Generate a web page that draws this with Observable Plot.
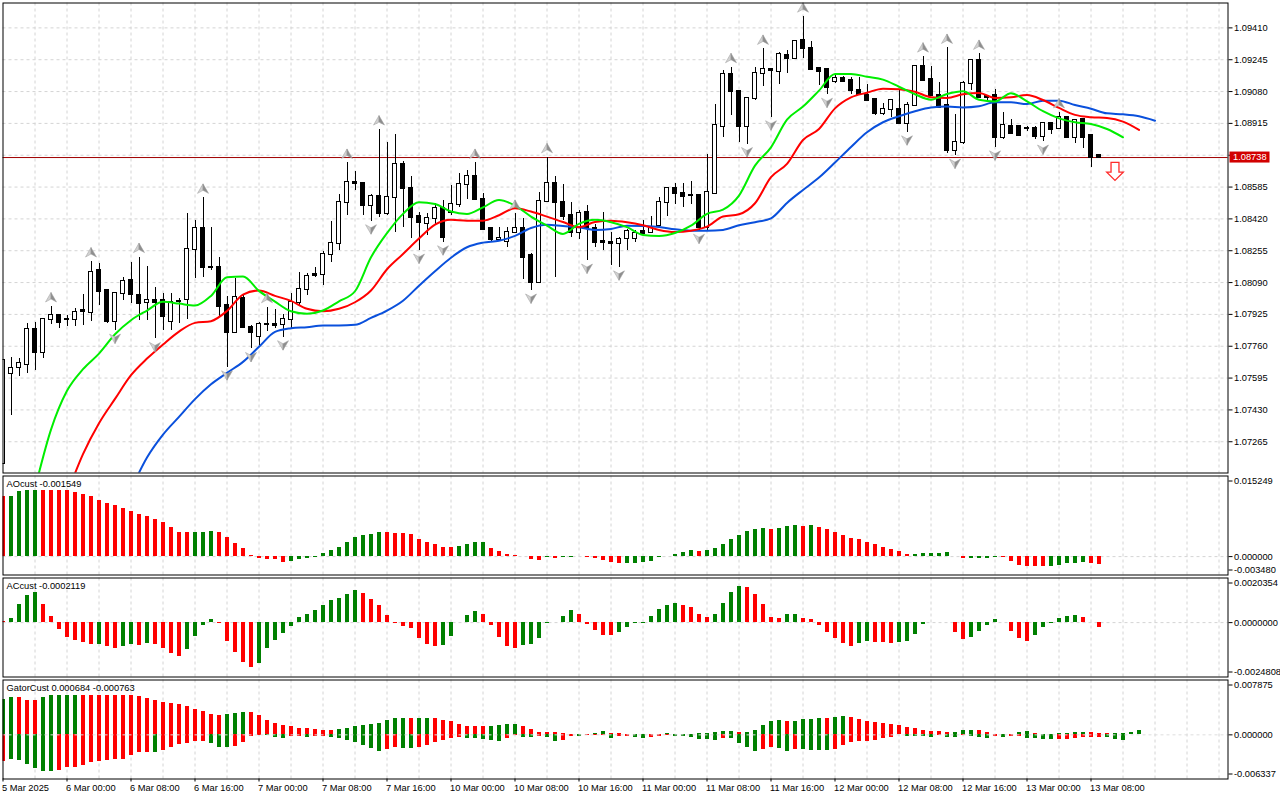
<!DOCTYPE html>
<html><head><meta charset="utf-8">
<script src="https://cdn.jsdelivr.net/npm/d3@7"></script>
<script src="https://cdn.jsdelivr.net/npm/@observablehq/plot@0.6"></script>
<style>
html,body{margin:0;padding:0;background:#fff;}
#wrap{position:relative;width:1280px;height:800px;overflow:hidden;background:#fff;}
#wrap > .pane{position:absolute;left:0;}
svg{display:block;}
</style></head><body><div id="wrap"></div>
<script>
// ---------------- DATA ----------------
const timeTickIdx = [0,8,16,24,32,40,48,56,64,72,80,88,96,104,112,120,128,136];
const timeLabels = ["5 Mar 2025","6 Mar 00:00","6 Mar 08:00","6 Mar 16:00","7 Mar 00:00","7 Mar 08:00","7 Mar 16:00","10 Mar 00:00","10 Mar 08:00","10 Mar 16:00","11 Mar 00:00","11 Mar 08:00","11 Mar 16:00","12 Mar 00:00","12 Mar 08:00","12 Mar 16:00","13 Mar 00:00","13 Mar 08:00"];
const priceTicks = [1.09410,1.09245,1.09080,1.08915,1.08750,1.08585,1.08420,1.08255,1.08090,1.07925,1.07760,1.07595,1.07430,1.07265];
const priceRange = [1.07103, 1.09539];
const visibleBars = 153.125;

const opens = [1.07154,1.07617,1.07648,1.07663,1.07845,1.07729,1.07897,1.07917,1.07897,1.07897,
1.07943,1.07936,1.08152,1.08049,1.07890,1.08031,1.08100,1.08023,1.07988,1.07999,
1.07997,1.07890,1.07992,1.08000,1.08259,1.08368,1.08170,1.08169,1.07971,1.07833,
1.08009,1.07859,1.07810,1.07871,1.07873,1.07871,1.07897,1.07988,1.08052,1.08130,
1.08130,1.08233,1.08295,1.08503,1.08610,1.08601,1.08489,1.08537,1.08446,1.08532,
1.08700,1.08580,1.08432,1.08395,1.08421,1.08472,1.08455,1.08494,1.08598,1.08639,
1.08523,1.08368,1.08311,1.08304,1.08351,1.08368,1.08230,1.08092,1.08510,1.08606,
1.08503,1.08440,1.08347,1.08451,1.08368,1.08302,1.08297,1.08290,1.08316,1.08321,
1.08354,1.08347,1.08385,1.08506,1.08575,1.08554,1.08542,1.08541,1.08377,1.08554,
1.08900,1.09168,1.09081,1.08900,1.09042,1.09176,1.09192,1.09185,1.09266,1.09249,
1.09344,1.09304,1.09197,1.09192,1.09130,1.09149,1.09137,1.09085,1.09059,1.09038,
1.08967,1.08985,1.08985,1.08917,1.09010,1.09209,1.09140,1.09062,1.09007,1.08774,
1.08817,1.09124,1.09240,1.09054,1.09059,1.08840,1.08898,1.08898,1.08886,1.08886,
1.08848,1.08912,1.08886,1.08947,1.08843,1.08934,1.08852,1.08748];
const highs = [1.07690,1.07703,1.07699,1.07879,1.07881,1.07902,1.07966,1.07924,1.07919,1.07954,
1.08026,1.08199,1.08187,1.08049,1.08038,1.08118,1.08196,1.08222,1.08173,1.08066,
1.08032,1.08032,1.08005,1.08446,1.08411,1.08529,1.08377,1.08218,1.08017,1.08109,
1.08023,1.07867,1.07884,1.07962,1.07948,1.07924,1.08031,1.08144,1.08135,1.08169,
1.08252,1.08408,1.08546,1.08710,1.08667,1.08601,1.08549,1.08883,1.08814,1.08860,
1.08719,1.08639,1.08455,1.08446,1.08498,1.08515,1.08593,1.08653,1.08670,1.08710,
1.08554,1.08377,1.08373,1.08377,1.08446,1.08420,1.08239,1.08558,1.08739,1.08639,
1.08598,1.08506,1.08466,1.08489,1.08390,1.08454,1.08347,1.08325,1.08363,1.08359,
1.08411,1.08432,1.08532,1.08584,1.08605,1.08605,1.08613,1.08549,1.08753,1.09012,
1.09188,1.09206,1.09085,1.09045,1.09206,1.09301,1.09200,1.09283,1.09292,1.09344,
1.09468,1.09339,1.09206,1.09197,1.09168,1.09157,1.09154,1.09154,1.09114,1.09045,
1.09019,1.09038,1.09085,1.09024,1.09214,1.09261,1.09209,1.09128,1.09306,1.08960,
1.09131,1.09244,1.09275,1.09062,1.09093,1.08969,1.08934,1.08898,1.08898,1.08898,
1.08915,1.08921,1.08972,1.08950,1.08933,1.08938,1.08852,1.08748];
const lows = [1.07150,1.07401,1.07603,1.07620,1.07634,1.07695,1.07872,1.07850,1.07862,1.07864,
1.07867,1.07890,1.07971,1.07876,1.07841,1.07997,1.07980,1.07894,1.07895,1.07798,
1.07840,1.07842,1.07876,1.07897,1.08109,1.08114,1.08152,1.07914,1.07651,1.07824,
1.07850,1.07746,1.07764,1.07838,1.07850,1.07807,1.07850,1.07971,1.08023,1.08114,
1.08074,1.08195,1.08256,1.08437,1.08567,1.08437,1.08408,1.08428,1.08437,1.08351,
1.08373,1.08316,1.08256,1.08334,1.08386,1.08299,1.08438,1.08480,1.08523,1.08518,
1.08359,1.08304,1.08307,1.08273,1.08342,1.08104,1.08049,1.08083,1.08506,1.08118,
1.08411,1.08325,1.08311,1.08204,1.08273,1.08256,1.08178,1.08169,1.08256,1.08299,
1.08340,1.08342,1.08377,1.08432,1.08497,1.08480,1.08497,1.08359,1.08362,1.08549,
1.08843,1.08955,1.08817,1.08808,1.09033,1.09105,1.08947,1.09119,1.09176,1.09244,
1.09249,1.09188,1.09111,1.09064,1.09123,1.09128,1.09064,1.09059,1.09030,1.08955,
1.08955,1.08947,1.08912,1.08869,1.09002,1.09131,1.09059,1.08995,1.08757,1.08748,
1.08808,1.09088,1.09047,1.09024,1.08791,1.08829,1.08857,1.08850,1.08872,1.08829,
1.08821,1.08860,1.08883,1.08843,1.08812,1.08786,1.08688,1.08738];
const closes = [1.07686,1.07646,1.07669,1.07845,1.07729,1.07897,1.07917,1.07884,1.07897,1.07936,
1.07939,1.08144,1.08045,1.07890,1.08031,1.08097,1.08027,1.07983,1.07996,1.07988,
1.07914,1.07988,1.07990,1.08259,1.08368,1.08166,1.08168,1.07967,1.07833,1.08011,
1.07859,1.07833,1.07871,1.07873,1.07870,1.07897,1.07988,1.08052,1.08124,1.08128,
1.08233,1.08295,1.08503,1.08610,1.08601,1.08492,1.08537,1.08446,1.08532,1.08700,
1.08580,1.08428,1.08400,1.08421,1.08472,1.08325,1.08493,1.08598,1.08639,1.08523,
1.08366,1.08311,1.08316,1.08347,1.08368,1.08218,1.08092,1.08510,1.08606,1.08503,
1.08435,1.08347,1.08446,1.08377,1.08299,1.08300,1.08294,1.08311,1.08354,1.08342,
1.08342,1.08368,1.08506,1.08575,1.08553,1.08537,1.08540,1.08377,1.08558,1.08903,
1.09168,1.09081,1.08900,1.09042,1.09176,1.09192,1.09190,1.09271,1.09249,1.09337,
1.09304,1.09192,1.09185,1.09099,1.09150,1.09133,1.09085,1.09067,1.09033,1.08964,
1.08985,1.09033,1.08915,1.09010,1.09209,1.09137,1.09062,1.08998,1.08774,1.08817,
1.09124,1.09240,1.09050,1.09050,1.08840,1.08902,1.08864,1.08850,1.08886,1.08848,
1.08912,1.08883,1.08947,1.08843,1.08929,1.08843,1.08739,1.08738];

const upFractalIdx = [6,11,17,25,33,43,47,59,64,68,91,95,100,115,118,122,132];
const downFractalIdx = [14,19,28,31,35,46,52,55,66,73,77,87,93,96,103,113,119,124,130];
const signalIdx = [139];
const signalPrice = [1.08666];

// Alligator lines, one value every lineStep bars from their start bar
const lineStep = 2;
const lipsStart = 4;
const lips = [1.07023,1.07328,1.07529,1.07641,1.07722,1.07822,1.07895,1.07945,1.07990,1.07981,
1.07971,1.08021,1.08117,1.08121,1.08047,1.07991,1.07941,1.07928,1.07945,1.07993,
1.08045,1.08221,1.08346,1.08446,1.08506,1.08497,1.08458,1.08446,1.08480,1.08518,
1.08489,1.08432,1.08385,1.08342,1.08394,1.08415,1.08403,1.08377,1.08337,1.08332,
1.08347,1.08385,1.08446,1.08468,1.08541,1.08696,1.08791,1.08934,1.09002,1.09085,
1.09171,1.09171,1.09157,1.09142,1.09105,1.09066,1.09038,1.09067,1.09081,1.09038,
1.09029,1.09071,1.09029,1.08978,1.08941,1.08921,1.08912,1.08886,1.08843];
const teethStart = 8;
const teeth = [1.06994,1.07201,1.07361,1.07487,1.07610,1.07696,1.07769,1.07836,1.07881,1.07890,
1.07943,1.08028,1.08049,1.08021,1.07995,1.07954,1.07941,1.07954,1.07988,1.08049,
1.08159,1.08238,1.08318,1.08390,1.08415,1.08411,1.08411,1.08439,1.08475,1.08458,
1.08432,1.08404,1.08377,1.08404,1.08411,1.08403,1.08387,1.08363,1.08352,1.08359,
1.08380,1.08432,1.08444,1.08501,1.08636,1.08705,1.08829,1.08886,1.08993,1.09050,
1.09074,1.09095,1.09092,1.09079,1.09051,1.09047,1.09066,1.09073,1.09047,1.09051,
1.09062,1.09036,1.08995,1.08959,1.08947,1.08943,1.08924,1.08881];
const jawStart = 16;
const jaw = [1.07018,1.07183,1.07302,1.07394,1.07486,1.07563,1.07622,1.07679,1.07757,1.07834,
1.07853,1.07859,1.07867,1.07867,1.07871,1.07907,1.07945,1.07996,1.08074,1.08149,
1.08219,1.08273,1.08297,1.08307,1.08332,1.08373,1.08390,1.08383,1.08377,1.08363,
1.08368,1.08385,1.08383,1.08378,1.08366,1.08359,1.08359,1.08363,1.08387,1.08403,
1.08423,1.08503,1.08570,1.08634,1.08712,1.08793,1.08869,1.08921,1.08952,1.08978,
1.08997,1.09002,1.08998,1.09004,1.09024,1.09024,1.09015,1.09033,1.09033,1.09010,
1.08991,1.08967,1.08962,1.08952,1.08929];

// Awesome oscillator (u = rising bar, d = falling bar)
const aoTitle = "AOcust -0.001549";
const aoRange = [-0.003480, 0.015249];
const aoValues = [0.01131,0.01144,0.01239,0.01258,0.01260,0.01256,0.01254,0.01252,0.01250,0.01220,
0.01182,0.01131,0.01068,0.01005,0.00960,0.00916,0.00859,0.00802,0.00764,0.00707,
0.00637,0.00548,0.00460,0.00447,0.00453,0.00460,0.00466,0.00447,0.00352,0.00257,
0.00155,0.00022,-0.00035,-0.00054,-0.00060,-0.00105,-0.00086,-0.00048,-0.00035,-0.00016,
0.00054,0.00117,0.00181,0.00276,0.00352,0.00402,0.00421,0.00460,0.00447,0.00434,
0.00430,0.00421,0.00326,0.00276,0.00231,0.00181,0.00174,0.00193,0.00231,0.00269,
0.00276,0.00162,0.00105,0.00041,0.00016,-0.00003,-0.00060,-0.00067,-0.00022,-0.00041,
-0.00022,-0.00010,0.00010,-0.00022,-0.00041,-0.00073,-0.00105,-0.00125,-0.00123,-0.00121,
-0.00119,-0.00086,-0.00022,0.00002,0.00041,0.00079,0.00117,0.00105,0.00117,0.00149,
0.00231,0.00320,0.00402,0.00479,0.00517,0.00523,0.00517,0.00536,0.00574,0.00580,
0.00574,0.00593,0.00555,0.00510,0.00460,0.00402,0.00339,0.00320,0.00276,0.00231,
0.00168,0.00136,0.00098,0.00035,0.00041,0.00054,0.00066,0.00068,0.00072,0.00010,
-0.00041,-0.00038,-0.00035,-0.00030,-0.00022,-0.00025,-0.00086,-0.00168,-0.00181,-0.00184,
-0.00187,-0.00178,-0.00168,-0.00136,-0.00124,-0.00120,-0.00124,-0.001549];
const aoDirs = "duuuuddddd"+"dddddddddd"+"dddduuuddd"+"dddddduuuu"+"uuuuuuuudd"+"ddddddduuu"+"udddddddud"+"uuuddddduu"+"uuuuuuuduu"+"uuuuuuduuu"+"dudddddddd"+"dddduuuuud"+"duuuuddddd"+"duuuuudd";

// Accelerator oscillator
const acTitle = "ACcust -0.0002119";
const acRange = [-0.0024808, 0.0020354];
const acValues = [0.00003,0.00020,0.00082,0.00123,0.00136,0.00082,0.00029,-0.00030,-0.00067,-0.00082,
-0.00092,-0.00101,-0.00100,-0.00109,-0.00117,-0.00107,-0.00100,-0.00104,-0.00097,-0.00098,
-0.00117,-0.00142,-0.00153,-0.00123,-0.00062,-0.00014,0.00012,-0.00002,-0.00085,-0.00135,
-0.00180,-0.00207,-0.00185,-0.00120,-0.00082,-0.00051,-0.00017,0.00023,0.00039,0.00057,
0.00077,0.00100,0.00110,0.00130,0.00145,0.00135,0.00104,0.00077,0.00032,-0.00002,
-0.00018,-0.00029,-0.00071,-0.00100,-0.00107,-0.00104,-0.00062,0.00002,0.00032,0.00050,
0.00036,-0.00012,-0.00067,-0.00107,-0.00117,-0.00104,-0.00100,-0.00074,-0.00002,0.00002,
0.00029,0.00054,0.00036,-0.00009,-0.00036,-0.00059,-0.00060,-0.00044,-0.00024,-0.00006,
-0.00003,0.00030,0.00059,0.00077,0.00085,0.00077,0.00070,0.00036,0.00023,0.00036,
0.00086,0.00138,0.00163,0.00159,0.00130,0.00082,0.00023,0.00020,0.00035,0.00037,
0.00017,0.00012,-0.00011,-0.00044,-0.00074,-0.00097,-0.00107,-0.00094,-0.00085,-0.00089,
-0.00092,-0.00094,-0.00089,-0.00085,-0.00054,-0.00009,0.00002,0.00001,0.00002,-0.00044,
-0.00079,-0.00067,-0.00039,-0.00014,0.00012,0.00002,-0.00039,-0.00074,-0.00085,-0.00059,
-0.00024,-0.00002,0.00017,0.00029,0.00032,0.00024,0.00002,-0.0002119];
const acDirs = "duuuuddddd"+"ddudduudud"+"ddduuuuddd"+"dduuuuuuuu"+"uuuuuddddd"+"ddddduuuuu"+"ddddduuuuu"+"uuddddduuu"+"uuuuuddddu"+"uuuddddduu"+"ddddddduud"+"dduuuuudud"+"duuuuddddu"+"uuuuuddd";

// Gator oscillator
const gatorTitle = "GatorCust 0.000684 -0.000763";
const gatorRange = [-0.006337, 0.007875];
const gatorUpper = [0.00507,0.00541,0.00531,0.00498,0.00497,0.00541,0.00560,0.00563,0.00565,0.00566,
0.00565,0.00564,0.00563,0.00562,0.00561,0.00560,0.00559,0.00550,0.00522,0.00498,
0.00469,0.00450,0.00435,0.00407,0.00364,0.00340,0.00292,0.00282,0.00292,0.00311,
0.00325,0.00323,0.00282,0.00211,0.00163,0.00139,0.00124,0.00091,0.00086,0.00077,
0.00067,0.00062,0.00072,0.00096,0.00115,0.00134,0.00144,0.00167,0.00211,0.00239,
0.00241,0.00230,0.00232,0.00239,0.00237,0.00201,0.00191,0.00153,0.00124,0.00115,
0.00113,0.00116,0.00129,0.00144,0.00145,0.00115,0.00077,0.00038,0.00029,0.00028,
0.00014,0.00003,0.00005,0.00010,0.00024,0.00053,0.00024,0.00022,0.00010,0.00003,
0.00004,0.00002,0.00005,0.00024,0.00010,0.00003,0.00004,0.00014,0.00024,0.00038,
0.00053,0.00054,0.00038,0.00040,0.00067,0.00139,0.00196,0.00211,0.00196,0.00198,
0.00225,0.00227,0.00239,0.00237,0.00254,0.00268,0.00254,0.00225,0.00196,0.00182,
0.00167,0.00153,0.00139,0.00110,0.00096,0.00067,0.00053,0.00051,0.00038,0.00040,
0.00067,0.00068,0.00066,0.00038,0.00010,0.00002,0.00010,0.00038,0.00053,0.00024,
0.00003,0.00010,0.00024,0.00025,0.00038,0.00039,0.00038,0.00024,0.00023,0.00025,
0.00026,0.00038,0.000684];
const gatorUpperDirs = "uuddduuuuu"+"dddddddddd"+"dddddddduu"+"uddddddddd"+"dduuuuuuuu"+"uduudddddd"+"duuuuddddd"+"dduuuudddd"+"uduudduuuu"+"uuduuuuudu"+"uuuduudddd"+"dddddddddu"+"uudddduuud"+"duuuuudddu"+"uuu";
const gatorLower = [-0.00388,-0.00349,-0.00364,-0.00426,-0.00488,-0.00522,-0.00525,-0.00512,-0.00474,-0.00472,
-0.00445,-0.00402,-0.00378,-0.00364,-0.00349,-0.00347,-0.00301,-0.00249,-0.00247,-0.00250,
-0.00220,-0.00177,-0.00139,-0.00120,-0.00091,-0.00090,-0.00129,-0.00177,-0.00187,-0.00163,
-0.00115,-0.00029,-0.00010,-0.00011,-0.00043,-0.00057,-0.00029,-0.00028,-0.00043,-0.00029,
-0.00024,-0.00043,-0.00057,-0.00077,-0.00115,-0.00148,-0.00201,-0.00234,-0.00215,-0.00187,
-0.00201,-0.00203,-0.00187,-0.00148,-0.00115,-0.00077,-0.00057,-0.00043,-0.00053,-0.00057,
-0.00067,-0.00077,-0.00091,-0.00053,-0.00010,-0.00033,-0.00043,-0.00019,-0.00043,-0.00091,
-0.00077,-0.00024,-0.00029,-0.00014,-0.00013,-0.00005,-0.00057,-0.00029,-0.00024,-0.00038,
-0.00057,-0.00043,-0.00029,-0.00014,-0.00019,-0.00029,-0.00043,-0.00072,-0.00073,-0.00074,
-0.00057,-0.00058,-0.00120,-0.00187,-0.00244,-0.00215,-0.00187,-0.00201,-0.00244,-0.00215,
-0.00216,-0.00225,-0.00230,-0.00231,-0.00215,-0.00158,-0.00115,-0.00100,-0.00091,-0.00077,
-0.00057,-0.00043,-0.00002,-0.00024,-0.00029,-0.00030,-0.00043,-0.00010,-0.00043,-0.00044,
-0.00014,-0.00024,-0.00043,-0.00057,-0.00019,-0.00043,-0.00029,-0.00028,-0.00057,-0.00058,
-0.00072,-0.00073,-0.00072,-0.00071,-0.00057,-0.00043,-0.00043,-0.00041,-0.00043,-0.00067,
-0.000763];
const gatorLowerDirs = "duuuuuuddd"+"dddddddddu"+"dddddduuud"+"ddduuuddud"+"duuuuuuudd"+"uudddddduu"+"uuudduuduu"+"dduddduddu"+"uddduuuuuu"+"duuuudduud"+"uuuudddddd"+"ddduuuuduu"+"duuududduu"+"uudddddduu"+"u";

// ---------------- RENDER ----------------
const FONT = '"Liberation Sans", Arial, sans-serif';
const FS = "9.3px";
const GRID = "#d4d4d4";
const UP = "#008000", DOWN = "#ff0000";
const gridIdx = d3.range(4, visibleBars, 4);
const lastClose = closes[closes.length - 1];

const barsData = opens.map((o, i) => ({i, open: o, high: highs[i], low: lows[i], close: closes[i]}));
const lineData = (vals, start) => vals.map((v, k) => ({i: start + lineStep * k, v}));
const histData = (vals, dirs) => vals.map((v, i) => ({i, v, dir: dirs[i]}));
const upFr = upFractalIdx.map(i => ({i, y: highs[i]}));
const dnFr = downFractalIdx.map(i => ({i, y: lows[i]}));
const signals = signalIdx.map((i, k) => ({i, y: signalPrice[k]}));

const makeSym = pts => ({draw(ctx, size) {
  const k = Math.sqrt(size / Math.PI) / 5;
  ctx.moveTo(pts[0][0] * k, pts[0][1] * k);
  for (const [a, b] of pts.slice(1)) ctx.lineTo(a * k, b * k);
  ctx.closePath();
}});
const fracUpL = makeSym([[0,-5],[-5.5,4.5],[0,1.5]]);
const fracUpR = makeSym([[0,-5],[5.5,4.5],[0,1.5]]);
const fracDnL = makeSym([[0,5],[-5.5,-4.5],[0,-1.5]]);
const fracDnR = makeSym([[0,5],[5.5,-4.5],[0,-1.5]]);
const sigDown = makeSym([[-2.2,-5],[2.2,-5],[2.2,0.4],[4.6,0.4],[0,5],[-4.6,0.4],[-2.2,0.4]]);

function opts(height, mt, mb, yDomain) {
  return {
    width: 1280, height, marginLeft: 2.5, marginRight: 52.5, marginTop: mt, marginBottom: mb,
    x: {domain: [0, visibleBars], axis: null, label: null},
    y: {domain: yDomain, axis: null, label: null},
    color: {type: "identity"},
    style: {fontFamily: FONT, fontSize: FS, color: "#000", background: "transparent", overflow: "visible"}
  };
}
const gridV = () => Plot.gridX(gridIdx, {stroke: GRID, strokeOpacity: 1, strokeDasharray: "3,3"});
const histMark = data => Plot.rect(data, {
  x1: d => d.i - 0.25, x2: d => d.i + 0.25, y1: 0, y2: "v",
  fill: d => d.dir === "u" ? UP : DOWN, clip: "frame", shapeRendering: "crispEdges"
});
const sideLabels = (range, digits) => [
  Plot.axisY([range[1]], {anchor: "right", label: null, tickSize: 4, tickPadding: 2, dy: 5, tickFormat: d => d.toFixed(digits)}),
  Plot.axisY([0], {anchor: "right", label: null, tickSize: 4, tickPadding: 2, tickFormat: d => d.toFixed(digits)}),
  Plot.axisY([range[0]], {anchor: "right", label: null, tickSize: 4, tickPadding: 2, dy: -5, tickFormat: d => d.toFixed(digits)})
];
const titleMark = t => Plot.text([t], {frameAnchor: "top-left", dx: 3.5, dy: 8.5, lineAnchor: "middle", textAnchor: "start", text: d => d, fill: "#000"});

const wrap = document.getElementById("wrap");
function place(svg, top) {
  const d = document.createElement("div");
  d.className = "pane"; d.style.top = top + "px";
  d.appendChild(svg); wrap.appendChild(d);
}

// Main price panel
const main = Plot.plot({
  ...opts(475, 2.5, 2.5, priceRange),
  marks: [
    gridV(),
    Plot.gridY(priceTicks, {stroke: GRID, strokeOpacity: 1, strokeDasharray: "3,3"}),
    Plot.axisY(priceTicks, {anchor: "right", label: null, tickSize: 4, tickPadding: 2, tickFormat: d => d.toFixed(5)}),
    Plot.ruleY([lastClose], {stroke: "#a00000", strokeWidth: 1}),
    Plot.ruleX(barsData, {x: "i", y1: "low", y2: "high", stroke: "#000", strokeWidth: 1, clip: "frame", shapeRendering: "crispEdges"}),
    Plot.rect(barsData, {
      x1: d => d.i - 0.25, x2: d => d.i + 0.25, y1: "open", y2: "close",
      fill: d => d.close >= d.open ? "#ffffff" : "#000000", stroke: "#000", strokeWidth: 1,
      insetTop: -0.5, insetBottom: -0.5, clip: "frame", shapeRendering: "crispEdges"
    }),
    Plot.line(lineData(jaw, jawStart), {x: "i", y: "v", stroke: "#0a50dc", strokeWidth: 2, curve: "monotone-x", clip: "frame"}),
    Plot.line(lineData(teeth, teethStart), {x: "i", y: "v", stroke: "#ff0000", strokeWidth: 2, curve: "monotone-x", clip: "frame"}),
    Plot.line(lineData(lips, lipsStart), {x: "i", y: "v", stroke: "#00ee00", strokeWidth: 2, curve: "monotone-x", clip: "frame"}),
    Plot.dot(upFr, {x: "i", y: "y", r: 5, symbol: fracUpL, fill: "#d2d2d2", stroke: "#9a9a9a", strokeWidth: 0.5, dy: -9}),
    Plot.dot(upFr, {x: "i", y: "y", r: 5, symbol: fracUpR, fill: "#8e8e8e", stroke: "#9a9a9a", strokeWidth: 0.5, dy: -9}),
    Plot.dot(dnFr, {x: "i", y: "y", r: 5, symbol: fracDnL, fill: "#d2d2d2", stroke: "#9a9a9a", strokeWidth: 0.5, dy: 8}),
    Plot.dot(dnFr, {x: "i", y: "y", r: 5, symbol: fracDnR, fill: "#8e8e8e", stroke: "#9a9a9a", strokeWidth: 0.5, dy: 8}),
    Plot.dot(signals, {x: "i", y: "y", r: 9, symbol: sigDown, fill: "#ffffff", stroke: "#ff2a2a", strokeWidth: 1.3}),
    Plot.frame({stroke: "#000"})
  ]
});
{
  const ys = main.scale("y"), xs = main.scale("x");
  const yv = ys.apply(lastClose), x0 = xs.apply(visibleBars);
  const g = d3.select(main).append("g").attr("text-anchor", "start");
  g.append("rect").attr("x", x0 + 2).attr("y", yv - 5.5).attr("width", 40).attr("height", 11).attr("fill", "#d20000");
  g.append("text").attr("x", x0 + 5.5).attr("y", yv).attr("dy", "0.35em").attr("fill", "#fff")
    .attr("text-anchor", "start").attr("font-family", FONT).attr("font-size", FS).text(lastClose.toFixed(5));
}
place(main, 0);

// AO panel
const ao = Plot.plot({
  ...opts(101, 0.5, 1.5, aoRange),
  marks: [
    gridV(),
    Plot.ruleY([0], {stroke: GRID, strokeDasharray: "3,3"}),
    histMark(histData(aoValues, aoDirs)),
    ...sideLabels(aoRange, 6),
    titleMark(aoTitle),
    Plot.frame({stroke: "#000"})
  ]
});
place(ao, 475);

// AC panel
const ac = Plot.plot({
  ...opts(102, 1.5, 1.5, acRange),
  marks: [
    gridV(),
    Plot.ruleY([0], {stroke: GRID, strokeDasharray: "3,3"}),
    histMark(histData(acValues, acDirs)),
    ...sideLabels(acRange, 7),
    titleMark(acTitle),
    Plot.frame({stroke: "#000"})
  ]
});
place(ac, 576);

// Gator panel + time axis
const gator = Plot.plot({
  ...opts(122, 1.5, 21.5, gatorRange),
  marks: [
    gridV(),
    histMark(histData(gatorUpper, gatorUpperDirs)),
    histMark(histData(gatorLower, gatorLowerDirs)),
    Plot.ruleY([0], {stroke: "#dedede", strokeDasharray: "3,3"}),
    ...sideLabels(gatorRange, 6),
    titleMark(gatorTitle),
    Plot.axisX(timeTickIdx, {anchor: "bottom", label: null, tickSize: 3, tickFormat: () => ""}),
    Plot.text(timeTickIdx, {x: d => d, frameAnchor: "bottom", dy: 9.5, dx: -1, textAnchor: "start", lineAnchor: "middle", text: (d, k) => timeLabels[k], fill: "#000"}),
    Plot.frame({stroke: "#000"})
  ]
});
place(gator, 678);
</script></body></html>
